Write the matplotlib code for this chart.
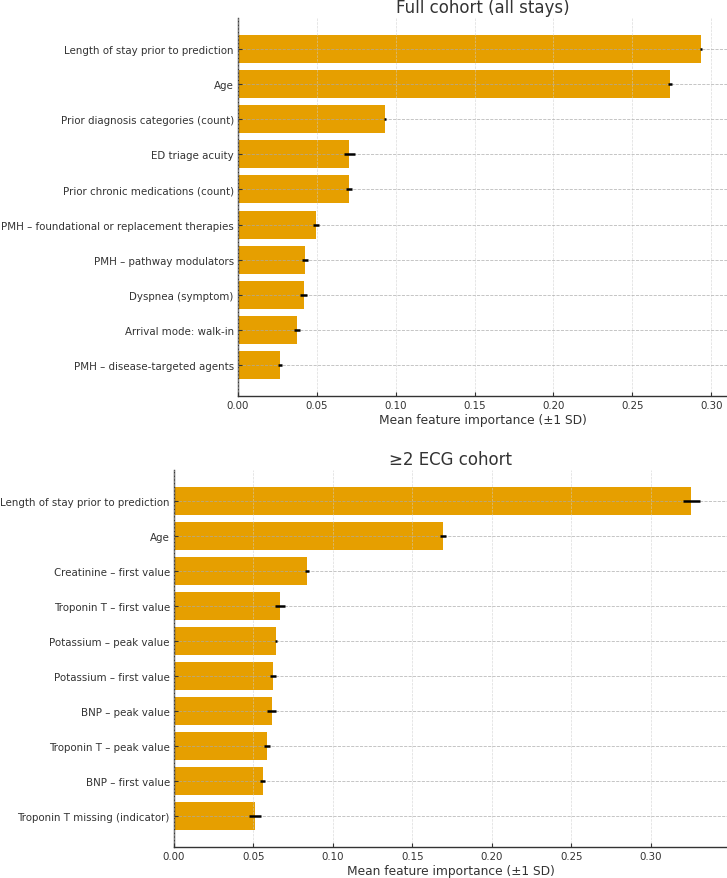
import matplotlib
matplotlib.use("Agg")
import matplotlib.pyplot as plt
import numpy as np

# Full cohort (all stays)
FULL_FEATURES = [
    "Length of stay prior to prediction",
    "Age",
    "Prior diagnosis categories (count)",
    "ED triage acuity",
    "Prior chronic medications (count)",
    "PMH – foundational or replacement therapies",
    "PMH – pathway modulators",
    "Dyspnea (symptom)",
    "Arrival mode: walk-in",
    "PMH – disease-targeted agents",
]
FULL_MEAN = [0.2937, 0.2738, 0.0932, 0.0706, 0.0704, 0.0495, 0.0425, 0.0416, 0.0374, 0.0264]
FULL_SD = [0.0007, 0.0012, 0.0004, 0.0036, 0.0017, 0.0019, 0.0018, 0.0023, 0.0016, 0.0013]

# >=2 ECG cohort
ECG_FEATURES = [
    "Length of stay prior to prediction",
    "Age",
    "Creatinine – first value",
    "Troponin T – first value",
    "Potassium – peak value",
    "Potassium – first value",
    "BNP – peak value",
    "Troponin T – peak value",
    "BNP – first value",
    "Troponin T missing (indicator)",
]
ECG_MEAN = [0.3256, 0.1694, 0.0837, 0.0667, 0.0644, 0.0622, 0.0615, 0.0586, 0.0557, 0.0510]
ECG_SD = [0.0051, 0.0020, 0.0015, 0.0029, 0.0007, 0.0018, 0.0030, 0.0017, 0.0017, 0.0035]

BAR_COLOR = "#E69F00"
TEXT_COLOR = "#333333"
W, H = 727, 879


def draw_panel(ax, features, mean, sd, title, xmax):
    y = np.arange(len(features))
    ax.barh(y, mean, height=0.8, color=BAR_COLOR, xerr=sd,
            error_kw=dict(ecolor="black", elinewidth=1.8, capsize=0, zorder=4))
    ax.set_yticks(y)
    ax.set_yticklabels(features)
    ax.invert_yaxis()
    ax.set_xlim(0, xmax)
    ax.set_xticks(np.arange(0, 0.301, 0.05))
    ax.set_title(title, fontsize=12, color=TEXT_COLOR, pad=4)
    ax.set_xlabel("Mean feature importance (±1 SD)", fontsize=8.8, color=TEXT_COLOR, labelpad=2)
    ax.spines["top"].set_visible(False)
    ax.spines["right"].set_visible(False)
    for side in ("left", "bottom"):
        ax.spines[side].set_color("#333333")
        ax.spines[side].set_linewidth(1.0)
    ax.tick_params(axis="both", direction="in", length=3, labelsize=7.35,
                   colors=TEXT_COLOR, pad=3)
    ax.set_axisbelow(False)
    ax.grid(axis="x", linestyle="--", linewidth=0.5, color="#cccccc", alpha=0.7)
    ax.grid(axis="y", linestyle="--", linewidth=0.6, color="#aaaaaa", alpha=0.8)


def main() -> None:
    fig = plt.figure(figsize=(W / 100, H / 100), dpi=100)

    ax1 = fig.add_axes([238 / W, 1 - 397 / H, (W - 238) / W, (397 - 19) / H])
    draw_panel(ax1, FULL_FEATURES, FULL_MEAN, FULL_SD, "Full cohort (all stays)", 0.310)

    ax2 = fig.add_axes([174 / W, 1 - 848 / H, (W - 174) / W, (848 - 471) / H])
    draw_panel(ax2, ECG_FEATURES, ECG_MEAN, ECG_SD, "≥2 ECG cohort", 0.348)

    fig.savefig("out.png", dpi=100)
    plt.close(fig)


if __name__ == "__main__":
    main()
